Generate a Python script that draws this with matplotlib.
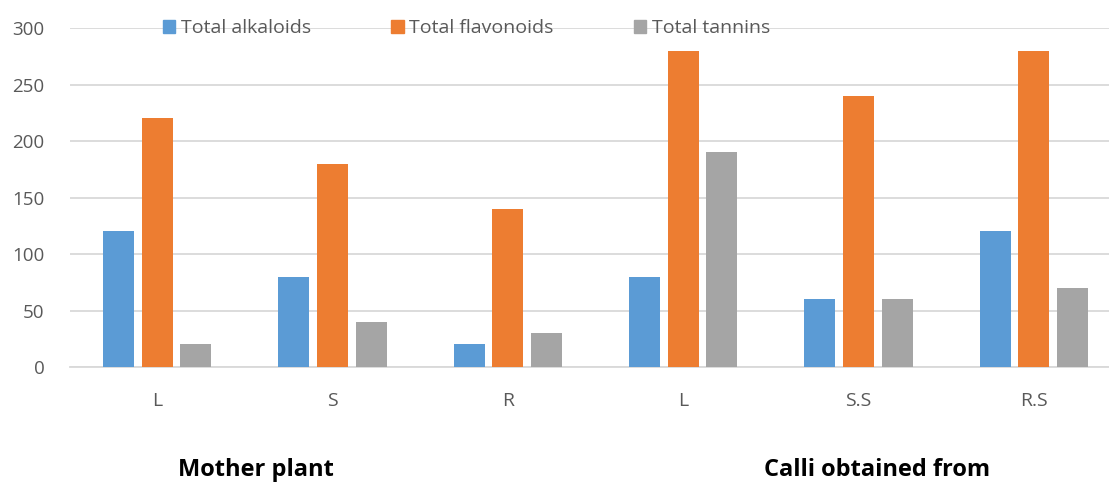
import numpy as np
import matplotlib.pyplot as plt
from matplotlib.patches import Patch

plt.rcParams['font.family'] = ['Open Sans', 'DejaVu Sans']

# Contents per sample (mother plant L/S/R, then calli)
categories = ['L', 'S', 'R', 'L', 'S.S', 'R.S']
alkaloids = [120, 80, 20, 80, 60, 120]
flavonoids = [220, 180, 140, 280, 240, 280]
tannins = [20, 40, 30, 190, 60, 70]
series_names = ['Total alkaloids', 'Total flavonoids', 'Total tannins']
colors = ['#5B9BD5', '#ED7D31', '#A5A5A5']
yticks = [0, 50, 100, 150, 200, 250, 300]

fig = plt.figure(figsize=(11.09, 4.83), dpi=100)
# plot area runs slightly past the right edge of the figure
ax = fig.add_axes([0.0627, 0.240, 0.9486, 0.702])

x = np.arange(len(categories))
width = 0.177
step = 0.22
for i, (vals, c) in enumerate(zip([alkaloids, flavonoids, tannins], colors)):
    ax.bar(x + (i - 1) * step, vals, width, color=c, zorder=3)

ax.set_xlim(-0.5, len(categories) - 0.5)
ax.set_ylim(0, 300)
ax.set_yticks(yticks)
ax.set_xticks(x)
ax.set_xticklabels(categories)
ax.grid(axis='y', color='#D9D9D9', linewidth=1.3, zorder=0)
ax.set_axisbelow(True)
for s in ['top', 'right', 'left']:
    ax.spines[s].set_visible(False)
ax.spines['bottom'].set_color('#D9D9D9')
ax.spines['bottom'].set_linewidth(1.3)
ax.tick_params(axis='both', length=0, labelcolor='#595959')
ax.tick_params(axis='x', pad=18, labelsize=14)
ax.tick_params(axis='y', pad=18, labelsize=13.5)

handles = [Patch(color=c) for c in colors]
fig.legend(handles, series_names, loc='center', bbox_to_anchor=(0.4206, 0.942),
           ncol=3, frameon=False, fontsize=14, labelcolor='#595959',
           handlelength=0.65, handleheight=0.65, handletextpad=0.3,
           columnspacing=4.1)

fig.text(256 / 1109, 1 - 470 / 483, 'Mother plant', ha='center', va='center',
         fontsize=17, fontweight='bold')
fig.text(877 / 1109, 1 - 470 / 483, 'Calli obtained from', ha='center', va='center',
         fontsize=17, fontweight='bold')

fig.savefig('out.png', dpi=100)
